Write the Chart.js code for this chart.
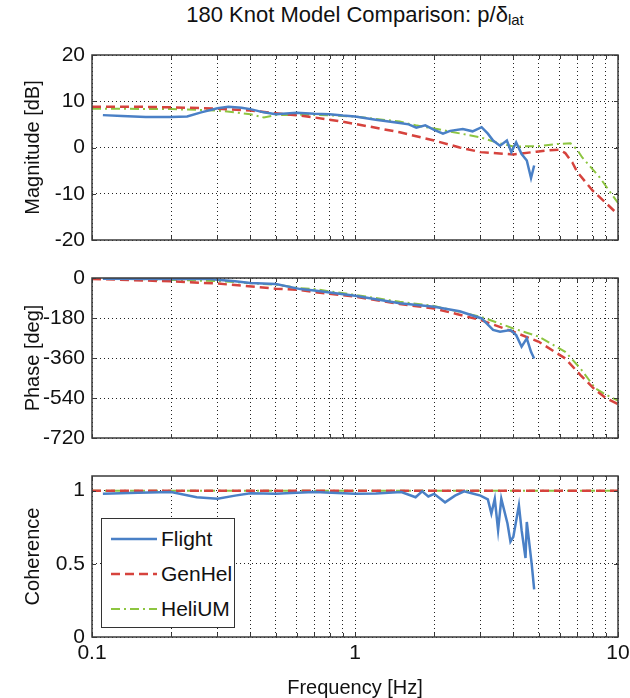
<!DOCTYPE html>
<html>
<head>
<meta charset="utf-8">
<script src="https://cdn.jsdelivr.net/npm/chart.js@4.4.1/dist/chart.umd.min.js"></script>
<style>
  body { margin: 0; background: #fff; }
  #wrap { position: relative; width: 630px; height: 698px; overflow: hidden; font-family: 'Liberation Sans', Arial, sans-serif; }
  canvas { position: absolute; left: 0; }
  #title { position: absolute; left: 92px; width: 526px; top: 2px; text-align: center; font-size: 22px; line-height: 26px; color: #111; }
  #title sub { font-size: 15px; position: relative; top: 3px; vertical-align: baseline; }
  #legend { position: absolute; left: 101px; top: 518px; width: 132px; height: 108px; border: 1.5px solid #333; background: #fff; }
  .item { position: absolute; left: 8px; height: 24px; font-size: 21px; line-height: 24px; color: #111; }
  .item svg { position: absolute; left: 0; top: 7px; }
  .item span { position: absolute; left: 51px; top: 0; white-space: nowrap; }
</style>
</head>
<body>
<div id="wrap">
  <div id="title">180 Knot Model Comparison: p/&delta;<sub>lat</sub></div>
  <canvas id="magChart" width="630" height="250" style="top:0"></canvas>
  <canvas id="phaseChart" width="630" height="200" style="top:250px"></canvas>
  <canvas id="cohChart" width="630" height="248" style="top:450px"></canvas>
  <div id="legend"></div>
</div>
<script>
// log grid of the frequency axis, labels only on decades
const freqGrid = [0.1, 0.2, 0.3, 0.4, 0.5, 0.6, 0.7, 0.8, 0.9, 1, 2, 3, 4, 5, 6, 7, 8, 9, 10];
const decadeLabels = [0.1, 1, 10];

// Flight data
const flightMagHz = [0.11, 0.13, 0.16, 0.2, 0.23, 0.26, 0.3, 0.33, 0.37, 0.4, 0.45, 0.5, 0.6, 0.7, 0.8, 0.9, 1.0, 1.2, 1.48, 1.6, 1.71, 1.85, 2.0, 2.16, 2.3, 2.57, 2.8, 3.03, 3.2, 3.35, 3.56, 3.78, 3.93, 4.1, 4.3, 4.5, 4.67, 4.8];
const flightMagDb = [7.0, 6.8, 6.6, 6.6, 6.7, 7.6, 8.5, 8.8, 8.6, 8.3, 7.6, 7.2, 7.5, 7.3, 7.2, 6.9, 6.7, 6.0, 5.3, 5.0, 4.3, 4.8, 3.8, 3.0, 3.6, 4.0, 3.5, 4.4, 3.0, 1.5, 0.4, 1.5, -1.0, 1.1, -1.4, -2.8, -6.6, -3.9];

const flightPhaseHz = [0.11, 0.2, 0.28, 0.3, 0.35, 0.4, 0.5, 0.62, 0.7, 1.0, 1.48, 2.0, 2.5, 3.03, 3.2, 3.35, 3.56, 3.9, 4.1, 4.3, 4.5, 4.67, 4.8];
const flightPhaseDeg = [-3, -4, -5, -8, -15, -22, -27, -50, -56, -80, -114, -129, -150, -182, -210, -234, -242, -234, -257, -309, -272, -332, -362];

const flightCohHz = [0.11, 0.15, 0.2, 0.25, 0.3, 0.35, 0.4, 0.5, 0.6, 0.7, 1.0, 1.2, 1.5, 1.7, 1.8, 1.9, 2.0, 2.2, 2.4, 2.6, 2.8, 3.0, 3.2, 3.3, 3.4, 3.5, 3.6, 3.8, 3.9, 4.0, 4.2, 4.3, 4.45, 4.5, 4.6, 4.7, 4.8];
const flightCoh = [0.978, 0.985, 0.99, 0.955, 0.944, 0.966, 0.982, 0.978, 0.985, 0.99, 0.978, 0.98, 0.99, 0.955, 0.995, 0.96, 0.978, 0.92, 0.966, 0.995, 0.98, 0.966, 0.94, 0.843, 0.944, 0.73, 0.944, 0.775, 0.652, 0.685, 0.9, 0.73, 0.54, 0.786, 0.64, 0.494, 0.326];

// GenHel model
const genMagHz = [0.1, 0.15, 0.2, 0.3, 0.4, 0.5, 0.62, 0.7, 0.85, 1.0, 1.48, 2.0, 2.5, 3.0, 4.0, 4.9, 5.5, 6.0, 6.3, 6.7, 7.0, 8.0, 9.0, 10];
const genMagDb = [8.8, 8.8, 8.7, 8.4, 8.0, 7.4, 6.9, 6.5, 5.8, 5.1, 3.3, 1.5, 0.0, -1.0, -1.5, -0.9, -0.6, -0.5, -1.2, -3.2, -5.3, -9.3, -12.0, -14.5];
const genPhaseHz = [0.1, 0.2, 0.3, 0.5, 0.62, 0.7, 1.0, 1.48, 2.0, 3.0, 4.0, 5.0, 6.3, 7.2, 8.2, 9.0, 10];
const genPhaseDeg = [-4, -15, -25, -48, -54, -63, -84, -117, -137, -189, -242, -287, -362, -437, -504, -540, -568];
const genCohHz = [0.1, 10];
const genCoh = [1, 1];

// HeliUM model
const heliMagHz = [0.1, 0.2, 0.3, 0.4, 0.45, 0.5, 0.7, 1.0, 1.48, 1.7, 2.0, 3.0, 3.5, 4.0, 5.0, 6.0, 6.6, 7.0, 7.3, 8.5, 10];
const heliMagDb = [8.4, 8.3, 8.0, 7.2, 6.5, 7.0, 7.1, 6.7, 5.6, 4.8, 4.1, 2.2, 1.0, 0.2, 0.3, 0.8, 0.9, -0.5, -2.1, -6.4, -12.0];
const heliPhaseHz = [0.1, 0.3, 0.5, 0.62, 0.7, 1.0, 1.48, 2.0, 3.0, 4.0, 5.0, 6.3, 7.2, 8.2, 9.0, 10];
const heliPhaseDeg = [0, -14, -30, -46, -50, -76, -107, -126, -174, -227, -264, -332, -407, -497, -525, -552];
const heliCohHz = [0.1, 10];
const heliCoh = [1, 1];

const seriesNames = ['Flight', 'GenHel', 'HeliUM'];
const seriesStyle = [
    { color: '#4a80c6', dash: [], width: 2.5 },
    { color: '#d6433d', dash: [9, 5], width: 2.5 },
    { color: '#8dc540', dash: [9, 4, 2, 4], width: 2 }
];

const FONT = "'Liberation Sans', Arial, sans-serif";

function toPoints(xs, ys) {
    return xs.map((x, i) => ({ x: x, y: ys[i] }));
}

function makeDatasets(pairs) {
    return pairs.map((p, i) => ({
        label: seriesNames[i],
        data: toPoints(p[0], p[1]),
        borderColor: seriesStyle[i].color,
        borderDash: seriesStyle[i].dash,
        borderWidth: seriesStyle[i].width,
        pointRadius: 0,
        tension: 0,
        fill: false
    }));
}

//box round the plot area plus small inside tick marks
const boxPlugin = {
    id: 'box',
    afterDatasetsDraw(chart) {
        const { ctx, chartArea: a, scales } = chart;
        ctx.save();
        ctx.strokeStyle = '#3a3a3a';
        ctx.lineWidth = 1;
        ctx.beginPath();
        scales.x.ticks.forEach(t => {
            const px = Math.round(scales.x.getPixelForValue(t.value)) + 0.5;
            ctx.moveTo(px, a.bottom); ctx.lineTo(px, a.bottom - 4);
            ctx.moveTo(px, a.top); ctx.lineTo(px, a.top + 4);
        });
        scales.y.ticks.forEach(t => {
            const py = Math.round(scales.y.getPixelForValue(t.value)) + 0.5;
            ctx.moveTo(a.left, py); ctx.lineTo(a.left + 4, py);
            ctx.moveTo(a.right, py); ctx.lineTo(a.right - 4, py);
        });
        ctx.stroke();
        ctx.lineWidth = 1.5;
        ctx.strokeRect(a.left, a.top, a.right - a.left, a.bottom - a.top);
        ctx.restore();
    }
};

function makeChart(canvasId, datasets, opts) {
    return new Chart(document.getElementById(canvasId), {
        type: 'line',
        data: { datasets: datasets },
        plugins: [boxPlugin],
        options: {
            responsive: false,
            animation: false,
            events: [],
            layout: { padding: { top: opts.top, right: 12, left: 0, bottom: 0 } },
            plugins: { legend: { display: false }, tooltip: { enabled: false } },
            scales: {
                x: {
                    type: 'logarithmic',
                    min: 0.1,
                    max: 10,
                    afterBuildTicks: scale => { scale.ticks = freqGrid.map(v => ({ value: v })); },
                    afterFit: scale => {
                        scale.height = opts.xHeight;
                        scale.paddingLeft = 0;
                        scale.paddingRight = 0;
                    },
                    grid: { color: '#222', lineWidth: 1, drawTicks: false },
                    border: { display: false, dash: [1, 3] },
                    ticks: {
                        display: opts.xLabels,
                        autoSkip: false,
                        maxRotation: 0,
                        padding: 4,
                        color: '#111',
                        font: { family: FONT, size: 21 },
                        callback: v => decadeLabels.includes(v) ? String(v) : ''
                    },
                    title: {
                        display: opts.xLabels,
                        text: 'Frequency [Hz]',
                        color: '#111',
                        padding: 0,
                        font: { family: FONT, size: 20, lineHeight: 1 }
                    }
                },
                y: {
                    min: opts.yMin,
                    max: opts.yMax,
                    afterBuildTicks: opts.yTicks ? (scale => { scale.ticks = opts.yTicks.map(v => ({ value: v })); }) : undefined,
                    afterFit: scale => {
                        scale.width = 92;
                        scale.paddingTop = 0;
                        scale.paddingBottom = 0;
                    },
                    grid: { color: '#222', lineWidth: 1, drawTicks: false },
                    border: { display: false, dash: [1, 3] },
                    ticks: {
                        stepSize: opts.yStep,
                        padding: 7,
                        color: '#111',
                        font: { family: FONT, size: 21 },
                        callback: v => String(v)
                    },
                    title: {
                        display: true,
                        text: opts.yTitle,
                        color: '#111',
                        padding: { top: 21, bottom: 0 },
                        font: { family: FONT, size: 20 }
                    }
                }
            }
        }
    });
}

makeChart('magChart', makeDatasets([
    [flightMagHz, flightMagDb], [genMagHz, genMagDb], [heliMagHz, heliMagDb]
]), { top: 55, xHeight: 10, xLabels: false, yMin: -20, yMax: 20, yStep: 10, yTitle: 'Magnitude [dB]' });

makeChart('phaseChart', makeDatasets([
    [flightPhaseHz, flightPhaseDeg], [genPhaseHz, genPhaseDeg], [heliPhaseHz, heliPhaseDeg]
]), { top: 28, xHeight: 12, xLabels: false, yMin: -720, yMax: 0, yStep: 180, yTitle: 'Phase [deg]' });

makeChart('cohChart', makeDatasets([
    [flightCohHz, flightCoh], [genCohHz, genCoh], [heliCohHz, heliCoh]
]), { top: 26, xHeight: 61, xLabels: true, yMin: 0, yMax: 1.1, yStep: 0.5, yTicks: [0, 0.5, 1], yTitle: 'Coherence' });

// legend box, samples drawn with the same dash patterns as the lines
const legend = document.getElementById('legend');
seriesNames.forEach((name, i) => {
    const s = seriesStyle[i];
    const item = document.createElement('div');
    item.className = 'item';
    item.style.top = (8 + i * 35) + 'px';
    item.innerHTML = '<svg width="48" height="10"><line x1="1" y1="5" x2="47" y2="5" stroke="' + s.color +
        '" stroke-width="' + s.width + '" stroke-dasharray="' + (s.dash.length ? s.dash.join(' ') : 'none') + '"/></svg>' +
        '<span>' + name + '</span>';
    legend.appendChild(item);
});
</script>
</body>
</html>
